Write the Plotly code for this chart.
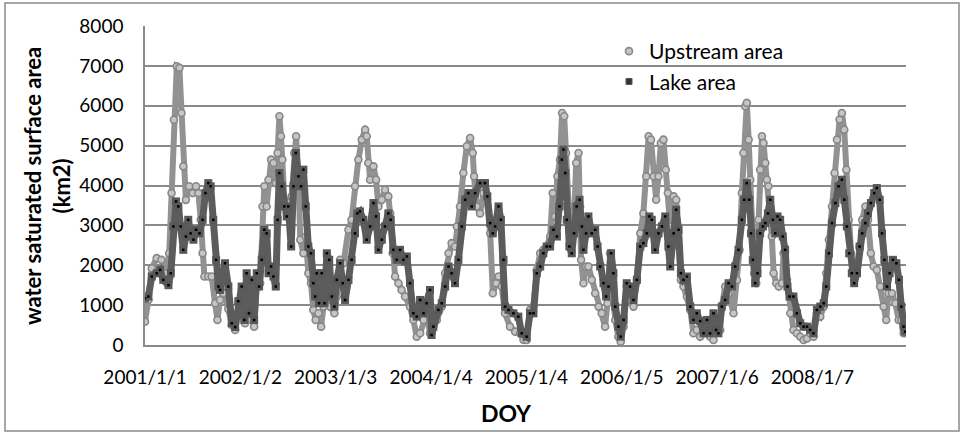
import plotly.graph_objects as go

# x = day index since 2001/1/1 (daily series, 2001-2008)
tick_days = [0, 366, 732, 1098, 1464, 1830, 2196, 2562]
tick_labels = ["2001/1/1", "2002/1/2", "2003/1/3", "2004/1/4",
               "2005/1/4", "2006/1/5", "2007/1/6", "2008/1/7"]

up_day = [0, 13, 26, 45, 63, 81, 93, 102, 111, 122,
          132, 140, 147, 157, 170, 183, 196, 205, 214, 221,
          228, 243, 256, 269, 278, 288, 301, 320, 333, 346,
          358, 371, 384, 397, 410, 419, 429, 442, 451, 458,
          467, 474, 484, 493, 502, 509, 516, 522, 527, 535,
          544, 553, 563, 573, 580, 589, 596, 608, 617, 627,
          637, 646, 655, 666, 676, 685, 698, 710, 727, 736,
          749, 762, 781, 793, 806, 819, 832, 845, 851, 857,
          864, 877, 887, 896, 909, 921, 934, 941, 951, 960,
          973, 985, 998, 1017, 1030, 1043, 1056, 1069, 1081, 1094,
          1101, 1120, 1139, 1152, 1165, 1177, 1190, 1197, 1209, 1222,
          1235, 1248, 1258, 1263, 1273, 1286, 1299, 1312, 1325, 1335,
          1348, 1357, 1369, 1382, 1401, 1421, 1440, 1453, 1465, 1478,
          1491, 1504, 1517, 1529, 1542, 1555, 1565, 1574, 1583, 1593,
          1601, 1609, 1616, 1625, 1634, 1645, 1655, 1664, 1670, 1674,
          1683, 1693, 1702, 1715, 1728, 1741, 1753, 1766, 1775, 1785,
          1796, 1805, 1817, 1826, 1837, 1849, 1862, 1875, 1888, 1901,
          1913, 1924, 1933, 1942, 1952, 1962, 1971, 1980, 1990, 1999,
          2007, 2016, 2029, 2039, 2048, 2057, 2067, 2080, 2093, 2105,
          2118, 2131, 2144, 2157, 2169, 2182, 2195, 2208, 2214, 2227,
          2240, 2259, 2272, 2282, 2291, 2297, 2304, 2310, 2317, 2323,
          2329, 2338, 2346, 2355, 2361, 2368, 2374, 2381, 2387, 2393,
          2400, 2406, 2413, 2423, 2433, 2445, 2451, 2464, 2477, 2489,
          2502, 2515, 2528, 2541, 2553, 2566, 2579, 2592, 2605, 2615,
          2625, 2637, 2647, 2656, 2666, 2675, 2684, 2692, 2701, 2710,
          2720, 2733, 2743, 2753, 2765, 2775, 2786, 2797, 2809, 2822,
          2835, 2845, 2854, 2867, 2880, 2893, 2903, 2912, 2918]
up_area = [586, 1130, 1926, 2178, 2136, 1800, 2300, 3810, 5650, 6990,
           6950, 5820, 4480, 3640, 3980, 3810, 3980, 3810, 3140, 2300,
           1717, 1717, 1717, 1047, 630, 1130, 1300, 900, 500, 377,
           795, 880, 545, 1466, 628, 460, 1466, 1550, 3475, 3980,
           3475, 4146, 4648, 4564, 4060, 4815, 5737, 5234, 4648, 3643,
           3475, 3560, 3727, 4815, 5234, 4230, 2640, 2300, 2720, 1800,
           1550, 880, 628, 795, 460, 963, 1298, 963, 795, 1215,
           2136, 2050, 2890, 3140, 3980, 4648, 5150, 5400, 5234, 4564,
           4146, 4480, 4146, 3475, 3643, 3894, 3727, 3300, 2300, 1717,
           1550, 1380, 1215, 963, 628, 209, 293, 628, 795, 293,
           460, 628, 963, 1800, 2300, 2554, 2470, 2973, 3475, 4313,
           4983, 5192, 4815, 4230, 3475, 3300, 3810, 3643, 2800, 1298,
           1550, 1717, 1466, 795, 460, 335, 293, 125, 125, 880,
           963, 1884, 2300, 2387, 2470, 2720, 3810, 3224, 4230, 4648,
           5820, 5737, 4815, 3475, 2470, 2800, 4564, 4815, 3475, 2136,
           1550, 1968, 1968, 1633, 1298, 963, 795, 460, 1047, 2300,
           1298, 628, 209, 84, 460, 1466, 1130, 963, 1633, 2800,
           3300, 4230, 5234, 5150, 4230, 3643, 4230, 5067, 5150, 4397,
           3810, 2973, 3727, 3643, 2470, 1633, 1466, 1215, 880, 293,
           377, 209, 293, 628, 209, 125, 460, 377, 963, 1466,
           1298, 795, 1633, 2387, 3810, 4815, 5988, 6072, 5150, 4146,
           2800, 1800, 1550, 3140, 4397, 5234, 5067, 4564, 4146, 3980,
           3475, 2720, 1800, 1550, 1466, 1550, 2300, 1633, 795, 377,
           293, 209, 125, 167, 293, 209, 795, 712, 963, 1800,
           2640, 3475, 4313, 5150, 5653, 5820, 5400, 4397, 3140, 2300,
           1800, 1968, 2470, 3140, 3475, 3140, 2300, 1968, 1884, 1466,
           963, 628, 1298, 1298, 1047, 628, 628, 293, 335]

lake_day = [0, 13, 26, 45, 58, 70, 90, 99, 109, 119,
            128, 137, 147, 157, 166, 175, 186, 196, 209, 221,
            232, 243, 252, 262, 273, 282, 288, 307, 320, 333,
            346, 358, 371, 381, 390, 399, 410, 419, 429, 438,
            448, 458, 467, 474, 484, 493, 502, 509, 516, 525,
            535, 544, 550, 561, 570, 579, 589, 599, 608, 617,
            627, 637, 646, 653, 659, 668, 678, 689, 698, 707,
            717, 727, 736, 749, 759, 768, 781, 793, 806, 815,
            825, 838, 851, 864, 877, 887, 896, 909, 921, 934,
            943, 953, 966, 979, 992, 1005, 1017, 1030, 1043, 1056,
            1069, 1081, 1094, 1100, 1107, 1126, 1139, 1152, 1165, 1177,
            1190, 1203, 1216, 1229, 1241, 1254, 1267, 1286, 1305, 1314,
            1325, 1335, 1344, 1357, 1366, 1376, 1382, 1395, 1414, 1433,
            1446, 1465, 1478, 1491, 1504, 1517, 1529, 1542, 1555, 1568,
            1581, 1591, 1600, 1606, 1613, 1619, 1629, 1638, 1647, 1657,
            1668, 1677, 1683, 1693, 1702, 1715, 1728, 1737, 1747, 1760,
            1770, 1779, 1789, 1798, 1805, 1817, 1826, 1837, 1849, 1862,
            1875, 1888, 1901, 1913, 1926, 1936, 1945, 1958, 1971, 1984,
            1997, 2009, 2016, 2029, 2039, 2048, 2057, 2067, 2080, 2093,
            2105, 2118, 2131, 2144, 2157, 2169, 2182, 2192, 2201, 2214,
            2227, 2240, 2253, 2265, 2278, 2291, 2300, 2310, 2319, 2326,
            2333, 2342, 2351, 2361, 2372, 2381, 2391, 2400, 2410, 2419,
            2428, 2438, 2448, 2457, 2466, 2474, 2489, 2502, 2515, 2528,
            2541, 2553, 2566, 2579, 2592, 2605, 2615, 2625, 2637, 2650,
            2662, 2675, 2684, 2694, 2703, 2713, 2722, 2733, 2743, 2753,
            2765, 2775, 2786, 2799, 2809, 2820, 2829, 2838, 2848, 2858,
            2871, 2884, 2894, 2903, 2912, 2918]
lake_area = [1170, 1215, 1717, 1800, 1884, 1633, 1500, 1800, 2973, 3600,
             3475, 2973, 2387, 2720, 3140, 2800, 2640, 2890, 2800, 3140,
             3810, 4060, 3980, 3140, 2136, 1466, 1380, 2050, 1466, 545,
             450, 1100, 1466, 628, 1800, 795, 1633, 628, 1800, 1466,
             2136, 2890, 2800, 1800, 1968, 1717, 1466, 3140, 4313, 3980,
             3475, 3224, 3475, 2470, 3980, 4815, 4230, 3980, 4397, 3475,
             2470, 2300, 1550, 1215, 1800, 1047, 1800, 1047, 2300, 2136,
             1215, 963, 1633, 2050, 1550, 1130, 1633, 2136, 2800, 3300,
             3350, 3140, 2640, 2973, 3560, 3224, 2387, 2640, 2973, 3300,
             3140, 2387, 2136, 2387, 2136, 2220, 1550, 795, 712, 1130,
             795, 1047, 1380, 250, 460, 880, 1047, 1466, 1968, 1800,
             1550, 2136, 2973, 3643, 3810, 3475, 3810, 4060, 4060, 3727,
             3057, 2800, 2973, 3475, 3140, 2136, 963, 880, 795, 712,
             293, 209, 795, 795, 1800, 1968, 2300, 2470, 2470, 2890,
             2720, 3475, 4648, 4900, 4313, 3140, 2470, 2300, 2800, 3475,
             3643, 2973, 2387, 2800, 3224, 2800, 2890, 2470, 1968, 1550,
             1215, 1466, 2300, 1800, 963, 460, 209, 628, 1550, 1466,
             1130, 1633, 2470, 2554, 2800, 3224, 3140, 2387, 2800, 2973,
             3224, 2470, 1968, 2800, 3392, 2890, 1800, 1633, 1717, 963,
             628, 795, 600, 293, 628, 293, 795, 377, 293, 963,
             1130, 1550, 1466, 1968, 2387, 3140, 3643, 4060, 3643, 2800,
             2136, 1550, 1800, 2800, 2973, 3057, 3300, 3643, 3140, 2800,
             3224, 3140, 2720, 2387, 1466, 1215, 1215, 795, 545, 460,
             460, 377, 293, 880, 963, 1047, 1466, 2300, 3057, 3560,
             3980, 4146, 3643, 2973, 2300, 1800, 1550, 1800, 2470, 2800,
             3057, 3300, 3560, 3810, 3936, 3643, 2800, 2136, 1466, 1800,
             2136, 2050, 1633, 963, 460, 335]

W, H = 965, 436
L, R, T, B = 145, 906, 26, 345   # plot area in pixels
def px(x):
    return (x - L) / (R - L)
def py(y):
    return (B - y) / (B - T)

FONT = "Lato, 'Open Sans', sans-serif"
UP_RING, UP_FILL, UP_LINE = "#878787", "#c6c6c6", "#929292"
LK_FILL, LK_LINE = "#585858", "#5c5c5c"

fig = go.Figure()
# upstream band
fig.add_trace(go.Scatter(
    x=up_day, y=up_area, showlegend=False, mode="lines+markers",
    line=dict(color=UP_LINE, width=6),
    marker=dict(symbol="circle", size=7, color=UP_FILL,
                line=dict(color=UP_RING, width=1.6)),
    hoverinfo="skip",
))
# lake band
fig.add_trace(go.Scatter(
    x=lake_day, y=lake_area, showlegend=False, mode="lines+markers",
    line=dict(color=LK_LINE, width=7),
    marker=dict(symbol="square", size=8, color=LK_FILL, line=dict(width=0)),
    hoverinfo="skip",
))
fig.add_trace(go.Scatter(
    x=lake_day, y=lake_area, showlegend=False, mode="markers",
    marker=dict(symbol="square", size=2.5, color="#000000"),
    hoverinfo="skip",
))
# legend entries (marker only)
fig.add_trace(go.Scatter(
    x=[None], y=[None], name="Upstream area", mode="markers",
    marker=dict(symbol="circle", size=7, color=UP_FILL,
                line=dict(color=UP_RING, width=1.6)),
))
fig.add_trace(go.Scatter(
    x=[None], y=[None], name="Lake area", mode="markers",
    marker=dict(symbol="square", size=6, color="#333333",
                line=dict(color="#5a5a5a", width=1)),
))

grid = "#8a8a8a"
fig.update_layout(
    width=W, height=H,
    margin=dict(l=L, r=W - R, t=T, b=H - B),
    paper_bgcolor="white", plot_bgcolor="white",
    font=dict(family=FONT, size=19, color="#000000"),
    showlegend=True,
    legend=dict(x=px(609), y=py(31), xanchor="left", yanchor="top",
                bgcolor="rgba(0,0,0,0)", font=dict(size=21, family=FONT),
                itemwidth=30, tracegroupgap=0),
    xaxis=dict(range=[0, 2921], tickvals=tick_days, ticktext=tick_labels,
               showgrid=False, zeroline=False, showline=True,
               linecolor=grid, linewidth=1.5, ticks="",
               ticklabelstandoff=14, tickfont=dict(size=19)),
    yaxis=dict(range=[0, 8000], dtick=1000, showgrid=True, gridcolor=grid,
               gridwidth=1.5, zeroline=False, showline=True, linecolor=grid,
               linewidth=1.5, ticks="", ticklabelstandoff=16,
               tickfont=dict(size=19)),
    annotations=[
        dict(text="<b>water saturated surface area<br>(km2)</b>",
             xref="paper", yref="paper", x=px(47), y=py(186),
             xanchor="center", yanchor="middle", textangle=-90,
             showarrow=False, font=dict(size=22, family=FONT)),
        dict(text="<b>DOY</b>", xref="paper", yref="paper",
             x=px(506), y=py(413), xanchor="center", yanchor="middle",
             showarrow=False, font=dict(size=23, family=FONT)),
    ],
    shapes=[dict(type="rect", xref="paper", yref="paper",
                 x0=px(5), x1=px(959), y0=py(3), y1=py(431),
                 line=dict(color="#8a8a8a", width=1.5))],
)

fig.write_html("out.html")
